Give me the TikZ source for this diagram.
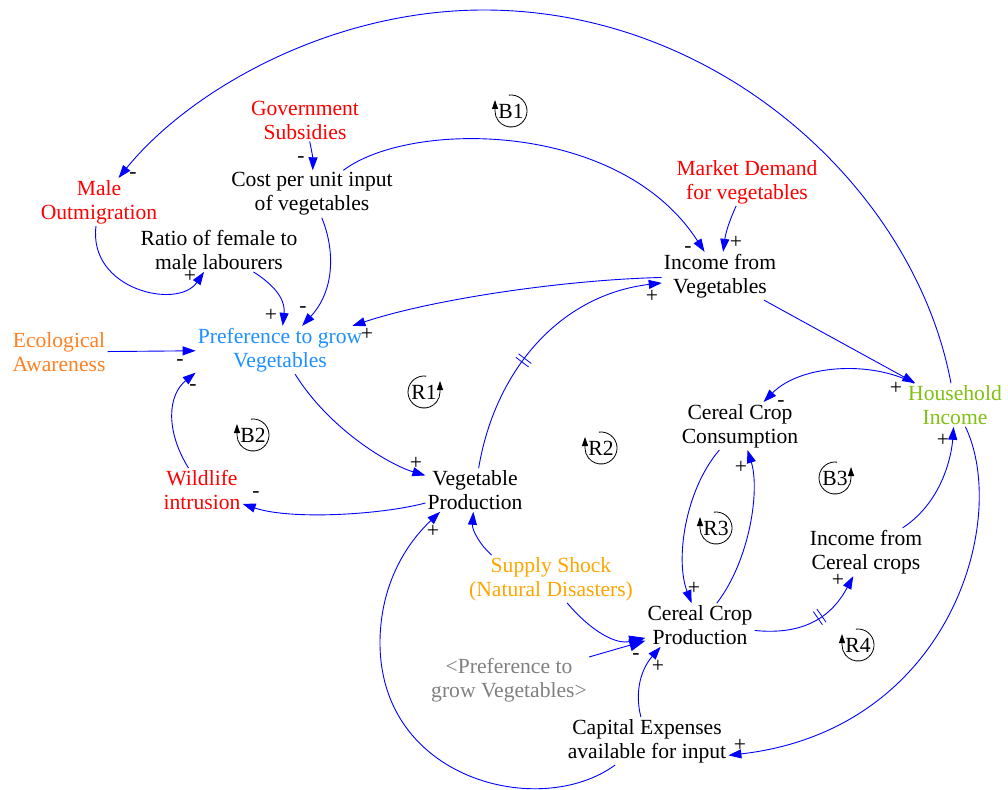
\documentclass[tikz,border=0pt]{standalone}
\usepackage{fontspec}
\setmainfont{Liberation Serif}
\usetikzlibrary{arrows.meta,decorations.markings}
\definecolor{linkblue}{RGB}{0,0,255}
\definecolor{exored}{RGB}{255,0,0}
\definecolor{ecoorange}{RGB}{255,128,32}
\definecolor{shockorange}{RGB}{255,165,0}
\definecolor{prefblue}{RGB}{30,144,255}
\definecolor{hhgreen}{RGB}{128,192,16}
\definecolor{shadowgray}{RGB}{128,128,128}
% loop markers: a ring round the loop label ending in an upward arrow,
% on the left side (clockwise) or on the right side (counter-clockwise)
\newcommand{\loopcw}[1]{\draw[loopring] ([shift={(98:16pt)}]#1.center) arc[start angle=98, end angle=-180, radius=16pt] -- ++(0pt,11pt);}
\newcommand{\loopccw}[1]{\draw[loopring] ([shift={(82:16pt)}]#1.center) arc[start angle=82, end angle=360, radius=16pt] -- ++(0pt,11pt);}
\begin{document}
\begin{tikzpicture}[x=1pt,y=-1pt,
  font=\fontsize{21.6}{24}\selectfont,
  var/.style={align=center, inner sep=2pt},
  link/.style={draw=linkblue, line width=0.9pt, -{Triangle[length=13pt,width=9pt]}},
  biglink/.style={link, -{Triangle[length=16pt,width=12pt]}},
  sgn/.style={inner sep=0pt},
  delayed/.style={postaction={decorate, decoration={markings, mark=at position #1 with
      {\draw[draw=linkblue, line width=0.8pt, -] (-2.2pt,-8pt) -- (-2.2pt,8pt) (2.2pt,-8pt) -- (2.2pt,8pt);}}}},
  loopring/.style={draw=black, line width=0.8pt, -{Triangle[length=9pt,width=6pt]}},
]
\useasboundingbox (0,0) rectangle (1008,789);

% variables
\node[var, text=exored] (male) at (99,202) {Male\\Outmigration};
\node[var, text=exored] (gov) at (305,120) {Government\\Subsidies};
\node[var] (cost) at (312,194) {Cost per unit input\\of vegetables};
\node[var, text=exored] (market) at (747,182) {Market Demand\\for vegetables};
\node[var] (ratio) at (219,250) {Ratio of female to\\male labourers};
\node[var] (incveg) at (720,276) {Income from\\Vegetables};
\node[var, text=ecoorange] (eco) at (59,352) {Ecological\\Awareness};
\node[var, text=prefblue] (pref) at (280,350) {Preference to grow\\Vegetables};
\node[var, text=exored] (wild) at (202,490) {Wildlife\\intrusion};
\node[var] (vegprod) at (475,490) {Vegetable\\Production};
\node[var, text=hhgreen] (hh) at (955,405) {Household\\Income};
\node[var] (ccc) at (740,426) {Cereal Crop\\Consumption};
\node[var] (inccer) at (866,552) {Income from\\Cereal crops};
\node[var, text=shockorange] (shock) at (551,579) {Supply Shock\\(Natural Disasters)};
\node[var] (ccp) at (700,625) {Cereal Crop\\Production};
\node[var, text=shadowgray] (prefg) at (509,680) {<Preference to\\grow Vegetables>};
\node[var] (cap) at (647,741) {Capital Expenses\\available for input};

% causal links
\draw[link] (hh) .. controls (915,190) and (720,10) .. (484,10) .. controls (330,10) and (190,90) .. (male);
\draw[link] (gov) .. controls (312,152) and (313,160) .. (cost);
\draw[link] (cost) .. controls (410,120) and (620,120) .. (incveg);
\draw[link] (market) .. controls (732,215) and (726,230) .. (incveg);
\draw[link] (male) .. controls (88,290) and (178,310) .. (ratio);
\draw[link] (ratio) .. controls (282,290) and (285,305) .. (pref);
\draw[link] (cost) .. controls (335,250) and (335,290) .. (pref);
\draw[link] (incveg) .. controls (560,280) and (430,300) .. (pref);
\draw[link] (eco) -- (pref);
\draw[link] (wild) .. controls (165,430) and (168,395) .. (pref.195);
\draw[link] (pref) .. controls (330,430) and (390,465) .. (vegprod);
\draw[link] (vegprod) .. controls (380,515) and (290,520) .. (wild);
\draw[link, delayed=0.42] (vegprod) .. controls (495,370) and (560,295) .. (incveg);
\draw[link] (incveg) -- (hh);
\draw[link] (hh) .. controls (870,360) and (800,365) .. (ccc);
\draw[link] (ccc) .. controls (685,490) and (675,560) .. (ccp);
\draw[link] (ccp) .. controls (750,560) and (760,490) .. (ccc);
\draw[link, delayed=0.56] (ccp) .. controls (800,635) and (830,620) .. (inccer);
\draw[link] (inccer) .. controls (945,500) and (952,450) .. (hh);
\draw[link] (hh) .. controls (1010,520) and (950,730) .. (cap.-10);
\draw[link] (cap.217) .. controls (540,820) and (378,780) .. (380,640) .. controls (381,585) and (405,545) .. (vegprod.212);
\draw[link] (cap) .. controls (634,690) and (642,668) .. (ccp.209);
\draw[link] (shock.158) .. controls (480,545) and (472,530) .. (vegprod);
\draw[biglink] (shock.-56) .. controls (590,630) and (615,645) .. (ccp);
\draw[biglink] (prefg) -- (ccp);

% link polarities
\node[sgn] (s01) at (133,176) {-};
\node[sgn] (s02) at (301,160) {-};
\node[sgn] (s03) at (688,250) {-};
\node[sgn] (s04) at (736,242) {+};
\node[sgn] (s05) at (190,276) {+};
\node[sgn] (s06) at (271,315) {+};
\node[sgn] (s07) at (303,310) {-};
\node[sgn] (s08) at (367,334) {+};
\node[sgn] (s09) at (180,363) {-};
\node[sgn] (s10) at (193,388) {-};
\node[sgn] (s11) at (416,463) {+};
\node[sgn] (s12) at (256,495) {-};
\node[sgn] (s13) at (652,296) {+};
\node[sgn] (s14) at (896,388) {+};
\node[sgn] (s15) at (781,404) {-};
\node[sgn] (s16) at (694,588) {+};
\node[sgn] (s17) at (741,467) {+};
\node[sgn] (s18) at (838,580) {+};
\node[sgn] (s19) at (943,440) {+};
\node[sgn] (s20) at (740,745) {+};
\node[sgn] (s21) at (433,531) {+};
\node[sgn] (s22) at (658,666) {+};
\node[sgn] (s23) at (636,657) {-};

% feedback loop markers
\node (B1) at (511,111) {B1};
\node (R1) at (424,392) {R1};
\node (B2) at (253,435) {B2};
\node (R2) at (601,448) {R2};
\node (R3) at (716,528) {R3};
\node (B3) at (835,478) {B3};
\node (R4) at (858,645) {R4};
\loopcw{B1}
\loopccw{R1}
\loopcw{B2}
\loopcw{R2}
\loopcw{R3}
\loopccw{B3}
\loopcw{R4}
\end{tikzpicture}
\end{document}
